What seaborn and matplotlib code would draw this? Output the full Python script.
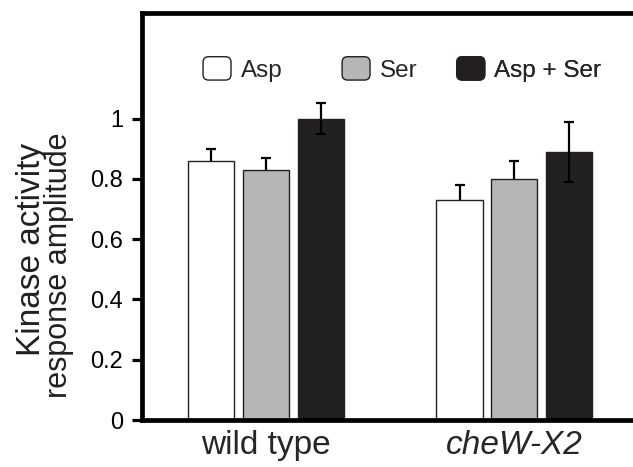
import numpy as np
import pandas as pd
import matplotlib
matplotlib.use("Agg")
import matplotlib.pyplot as plt
import seaborn as sns
from matplotlib.patches import FancyBboxPatch, Patch
from matplotlib.legend_handler import HandlerPatch

# data
strains = ["wild type", "cheW-X2"]
stimuli = ["Asp", "Ser", "Asp + Ser"]
asp_vals = [0.86, 0.73]
ser_vals = [0.83, 0.80]
both_vals = [1.00, 0.89]
asp_err = [0.04, 0.05]
ser_err = [0.04, 0.06]
both_err = [0.05, 0.10]
ylabel_lines = ["Kinase activity", "response amplitude"]

colors = ["#ffffff", "#b5b6b5", "#231f20"]
edge = "#231f20"

df = pd.DataFrame({
    "strain": strains * 3,
    "stimulus": [s for s in stimuli for _ in strains],
    "amp": asp_vals + ser_vals + both_vals,
    "err": asp_err + ser_err + both_err,
})

sns.set_style("white")
plt.rcParams["font.family"] = ["Liberation Sans", "DejaVu Sans"]

fig = plt.figure(figsize=(6.33, 4.67), dpi=100)
ax = fig.add_axes([0.2243, 0.1006, 0.7844, 0.8715])

sns.barplot(data=df, x="strain", y="amp", hue="stimulus", order=strains,
            hue_order=stimuli, palette=colors, width=0.663, gap=0.16,
            errorbar=None, edgecolor=edge, linewidth=1.0, legend=False, ax=ax)

# error bars: light bars hide the lower half, dark bars show it
bars = [p for p in ax.patches if p.get_height() > 0]
for i, stim in enumerate(stimuli):
    sub = df[df["stimulus"] == stim]
    for j, strain in enumerate(strains):
        p = bars[i * len(strains) + j]
        xc = p.get_x() + p.get_width() / 2
        e = sub[sub["strain"] == strain]["err"].values[0]
        z = 3 if stim == "Asp + Ser" else 0.5
        ax.errorbar(xc, p.get_height(), yerr=e, fmt="none", ecolor="black",
                    elinewidth=1.6, capsize=3.5, capthick=1.6, zorder=z)

ax.set_xlim(-0.5, 1.5)
ax.set_ylim(0, 1.35)
ax.set_yticks([0, 0.2, 0.4, 0.6, 0.8, 1.0])
ax.set_yticklabels(["0", "0.2", "0.4", "0.6", "0.8", "1"])
ax.tick_params(axis="y", length=7.5, width=2.3, pad=6, labelsize=17,
               direction="out", left=True, colors="black")
ax.tick_params(axis="x", length=0, pad=7, labelsize=24)
ax.set_xlabel("")
ax.set_ylabel("")
ax.get_xticklabels()[1].set_style("italic")
ax.spines["right"].set_visible(False)
for s in ["left", "top", "bottom"]:
    ax.spines[s].set_linewidth(3.4)
    ax.spines[s].set_color("black")

# two-line y label with tight leading
ax.text(-0.2054, 0.419, ylabel_lines[0], transform=ax.transAxes,
        rotation=90, rotation_mode="anchor", ha="center", va="baseline",
        fontsize=24, color="#231f20")
ax.text(-0.151, 0.381, ylabel_lines[1], transform=ax.transAxes,
        rotation=90, rotation_mode="anchor", ha="center", va="baseline",
        fontsize=22, color="#231f20")


class RoundHandler(HandlerPatch):
    def create_artists(self, legend, orig_handle, xdescent, ydescent,
                       width, height, fontsize, trans):
        p = FancyBboxPatch((-xdescent, -ydescent), width, height,
                           boxstyle="round,pad=0,rounding_size=4",
                           facecolor=orig_handle.get_facecolor(),
                           edgecolor=edge, linewidth=1.0, transform=trans)
        return [p]


# one legend entry per stimulus, placed like the original key
key_x = [0.123, 0.403, 0.634]
for stim, c, kx in zip(stimuli, colors, key_x):
    leg = ax.legend([Patch(facecolor=c, edgecolor=edge)], [stim],
                    frameon=False, loc="center left",
                    bbox_to_anchor=(kx, 0.862), fontsize=17.5,
                    handlelength=1.15, handleheight=1.1, handletextpad=0.4,
                    handler_map={Patch: RoundHandler()},
                    borderaxespad=0, borderpad=0)
    ax.add_artist(leg)

fig.savefig("out.png", dpi=100)
